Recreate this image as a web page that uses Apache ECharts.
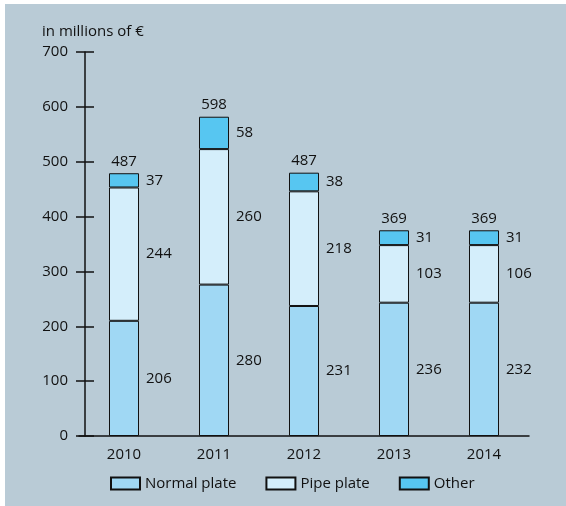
<!DOCTYPE html>
<html>
<head>
<meta charset="utf-8">
<script src="https://cdn.jsdelivr.net/npm/echarts@6/dist/echarts.min.js"></script>
<style>
    html, body { margin: 0; padding: 0; background: #fff; }
    #chart { width: 566px; height: 506px; }
</style>
</head>
<body>
<div id="chart"></div>
<script>
// categories
const years = ['2010', '2011', '2012', '2013', '2014'];

// segment heights as drawn in the picture (millions of €)
const normalPlate = [210, 276, 237, 243, 243];
const pipePlate = [243, 247, 209, 105, 105];
const other = [26, 59, 34, 27, 27];

// numbers printed next to the segments
const normalLabels = [206, 280, 231, 236, 232];
const pipeLabels = [244, 260, 218, 103, 106];
const otherLabels = [37, 58, 38, 31, 31];
const totalLabels = [487, 598, 487, 369, 369];

const yTicks = { min: 0, max: 700, interval: 100 };

const font = 'Open Sans';
const ink = '#111';
const fs = 15;

const chart = echarts.init(document.getElementById('chart'), null, { renderer: 'canvas' });

function segLabel(labels) {
    return {
        show: true,
        position: 'right',
        distance: 7,
        color: ink,
        fontFamily: font,
        fontSize: fs,
        formatter: function (p) { return labels[p.dataIndex]; }
    };
}

function barSeries(name, data, color, labels) {
    return {
        name: name,
        type: 'bar',
        stack: 'total',
        barWidth: 30,
        data: data,
        itemStyle: { color: color, borderColor: ink, borderWidth: 1 },
        label: segLabel(labels),
        emphasis: { disabled: true },
        animation: false
    };
}

// stack tops for the total labels
const stackTops = years.map(function (y, i) {
    return [y, normalPlate[i] + pipePlate[i] + other[i]];
});

const option = {
    animation: false,
    backgroundColor: '#fff',
    textStyle: { fontFamily: font },
    graphic: [{
        type: 'rect',
        z: -10,
        left: 5,
        top: 4,
        shape: { width: 561, height: 502 },
        style: { fill: '#b9cbd6' },
        silent: true
    }],
    title: {
        text: 'in millions of €',
        left: 37,
        top: 19,
        textStyle: { fontFamily: font, fontSize: fs, fontWeight: 'normal', color: ink }
    },
    legend: {
        left: 105,
        top: 471,
        itemWidth: 29,
        itemHeight: 12,
        itemGap: 29,
        icon: 'rect',
        textStyle: { fontFamily: font, fontSize: fs, color: ink },
        data: ['Normal plate', 'Pipe plate', 'Other']
    },
    grid: { left: 79, top: 52, width: 450, height: 384 },
    xAxis: {
        type: 'category',
        data: years,
        axisLine: { lineStyle: { color: ink, width: 1.5 } },
        axisTick: { show: false },
        axisLabel: { color: ink, fontFamily: font, fontSize: fs, margin: 11 }
    },
    yAxis: [{
        type: 'value',
        min: yTicks.min,
        max: yTicks.max,
        interval: yTicks.interval,
        offset: -6,
        splitLine: { show: false },
        axisLine: { show: true, lineStyle: { color: ink, width: 1.5 } },
        axisTick: { show: true, length: 9, lineStyle: { color: ink, width: 1.5 } },
        axisLabel: { color: ink, fontFamily: font, fontSize: fs, margin: 17 }
    }, {
        type: 'value',
        min: yTicks.min,
        max: yTicks.max,
        interval: yTicks.interval,
        position: 'left',
        offset: -6,
        splitLine: { show: false },
        axisLine: { show: false },
        axisTick: { show: true, inside: true, length: 9, lineStyle: { color: ink, width: 1.5 } },
        axisLabel: { show: false }
    }],
    series: [
        barSeries('Normal plate', normalPlate, '#a0d8f4', normalLabels),
        barSeries('Pipe plate', pipePlate, '#d4eefb', pipeLabels),
        barSeries('Other', other, '#57c6f1', otherLabels),
        {
            name: 'total',
            type: 'scatter',
            symbolSize: 0,
            data: stackTops,
            itemStyle: { opacity: 1, color: 'rgba(0,0,0,0)' },
            label: {
                show: true,
                position: 'top',
                distance: 4,
                color: ink,
                fontFamily: font,
                fontSize: fs,
                formatter: function (p) { return totalLabels[p.dataIndex]; }
            },
            silent: true,
            animation: false
        }
    ]
};

chart.setOption(option);
</script>
</body>
</html>
